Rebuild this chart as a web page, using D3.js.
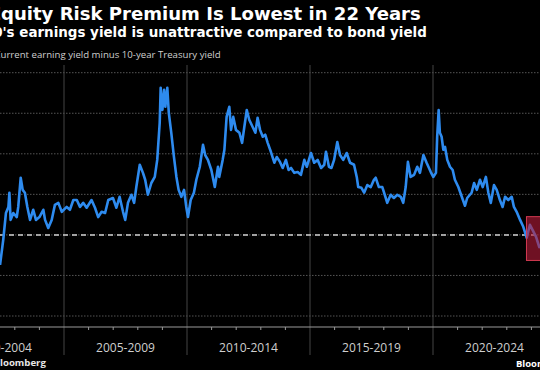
<!DOCTYPE html>
<html>
<head>
<meta charset="utf-8">
<script src="https://cdn.jsdelivr.net/npm/d3@7.9.0/dist/d3.min.js"></script>
<style>
  html, body { margin: 0; padding: 0; background: #000; overflow: hidden; }
  svg { display: block; }
</style>
</head>
<body>
<svg id="chart" width="540" height="370"></svg>
<script>
// S&P 500 earnings yield minus 10y Treasury yield (pct pts)
const dates = [
  2002.40, 2002.53, 2002.64, 2002.74, 2002.78, 2002.83, 2002.94, 2003.08, 2003.14, 2003.24,
  2003.32, 2003.41, 2003.51, 2003.62, 2003.75, 2003.86, 2004.00, 2004.16, 2004.23, 2004.36,
  2004.50, 2004.63, 2004.77, 2004.91, 2005.11, 2005.24, 2005.38, 2005.52, 2005.65, 2005.78,
  2005.92, 2006.12, 2006.26, 2006.39, 2006.53, 2006.67, 2006.80, 2006.99, 2007.13, 2007.26,
  2007.40, 2007.49, 2007.60, 2007.74, 2007.85, 2007.94, 2008.08, 2008.21, 2008.30, 2008.41,
  2008.55, 2008.69, 2008.79, 2008.89, 2008.93, 2009.00, 2009.07, 2009.12, 2009.20, 2009.26,
  2009.36, 2009.47, 2009.57, 2009.66, 2009.77, 2009.88, 2009.97, 2010.04, 2010.15, 2010.28,
  2010.38, 2010.52, 2010.65, 2010.74, 2010.85, 2010.99, 2011.13, 2011.26, 2011.31, 2011.45,
  2011.52, 2011.61, 2011.72, 2011.79, 2011.88, 2011.99, 2012.13, 2012.24, 2012.33, 2012.43,
  2012.53, 2012.67, 2012.78, 2012.87, 2012.97, 2013.08, 2013.18, 2013.28, 2013.41, 2013.55,
  2013.65, 2013.78, 2013.89, 2014.02, 2014.13, 2014.23, 2014.36, 2014.50, 2014.63, 2014.77,
  2014.87, 2015.04, 2015.17, 2015.31, 2015.45, 2015.58, 2015.65, 2015.77, 2015.87, 2015.98,
  2016.11, 2016.22, 2016.35, 2016.49, 2016.63, 2016.79, 2016.90, 2016.96, 2017.09, 2017.20,
  2017.33, 2017.47, 2017.60, 2017.67, 2017.80, 2017.94, 2018.08, 2018.14, 2018.28, 2018.41,
  2018.55, 2018.69, 2018.79, 2018.89, 2018.98, 2019.09, 2019.23, 2019.36, 2019.47, 2019.61,
  2019.74, 2019.91, 2020.01, 2020.12, 2020.17, 2020.23, 2020.28, 2020.35, 2020.42, 2020.49,
  2020.58, 2020.69, 2020.80, 2020.89, 2021.03, 2021.17, 2021.30, 2021.39, 2021.57, 2021.67,
  2021.78, 2021.91, 2022.02, 2022.15, 2022.25, 2022.35, 2022.48, 2022.59, 2022.72, 2022.83,
  2022.93, 2023.06, 2023.20, 2023.29, 2023.40, 2023.54, 2023.67, 2023.81, 2023.94, 2024.05,
  2024.19, 2024.32, 2024.45
];
const premium = [
  -0.74, -0.12, 0.54, 0.69, 1.04, 0.37, 0.54, 0.44, 0.69, 1.41,
  1.11, 1.04, 0.69, 0.37, 0.62, 0.37, 0.44, 0.62, 0.37, 0.17,
  0.37, 0.74, 0.79, 0.57, 0.69, 0.62, 0.86, 0.86, 0.69, 0.79,
  0.67, 0.86, 0.67, 0.44, 0.57, 0.54, 0.86, 0.91, 0.67, 0.94,
  0.57, 0.37, 0.79, 0.99, 0.79, 1.18, 1.73, 1.53, 1.36, 0.99,
  1.28, 1.43, 1.85, 2.76, 3.63, 3.08, 3.58, 3.16, 3.63, 3.01,
  2.52, 1.92, 1.43, 1.11, 0.94, 1.11, 0.69, 0.44, 0.86, 1.04,
  1.36, 1.68, 2.22, 1.97, 1.85, 1.60, 1.18, 1.68, 1.43, 1.85,
  2.10, 2.91, 3.16, 2.59, 2.91, 2.59, 2.52, 2.27, 2.66, 3.08,
  2.84, 2.66, 2.52, 2.89, 2.59, 2.42, 2.47, 2.27, 2.05, 1.78,
  1.92, 1.80, 1.65, 1.85, 1.60, 1.65, 1.53, 1.55, 1.48, 1.85,
  1.68, 2.02, 1.78, 1.85, 1.65, 1.73, 2.05, 1.68, 1.65, 1.85,
  2.29, 1.97, 1.85, 2.02, 1.78, 1.73, 1.43, 1.18, 1.16, 1.04,
  1.23, 1.18, 1.36, 1.41, 1.18, 1.18, 0.91, 0.79, 0.99, 0.91,
  0.99, 0.94, 0.79, 1.18, 1.80, 1.43, 1.48, 1.68, 1.53, 1.97,
  1.78, 1.55, 1.43, 1.53, 2.42, 3.08, 2.52, 2.42, 2.10, 2.17,
  1.85, 1.68, 1.60, 1.36, 1.18, 0.94, 0.72, 0.91, 1.04, 1.28,
  1.11, 1.36, 1.18, 1.43, 1.04, 0.79, 1.23, 1.11, 0.86, 0.69,
  0.94, 0.86, 0.94, 0.69, 0.57, 0.37, 0.20, -0.07, 0.25, 0.12,
  -0.05, -0.30, -0.22
];

const gridValues = [-2, -1, 0, 1, 2, 3, 4];
const periodBreaks = [2000, 2005, 2010, 2015, 2020, 2025];
const periodLabels = ['2000-2004', '2005-2009', '2010-2014', '2015-2019', '2020-2024'];
const yearTicks = d3.range(2000, 2026);
const referenceLevel = 0;             // dashed line
const highlightStart = 2023.8;        // red box
const highlightRange = [-0.63, 0.45];

const W = 540, H = 370;
const plotTop = 65, axisY = 327, tickBottom = 355;

const svg = d3.select('#chart');
svg.append('rect').attr('width', W).attr('height', H).attr('fill', '#000');

const x = d3.scaleLinear().domain([2000, 2025]).range([-59, 556]);
const y = d3.scaleLinear().domain([-2, 4]).range([316, 72.7]);

// horizontal grid
svg.append('g')
  .selectAll('line')
  .data(gridValues)
  .join('line')
  .attr('x1', 0).attr('x2', W)
  .attr('y1', d => y(d)).attr('y2', d => y(d))
  .attr('stroke', '#555')
  .attr('stroke-dasharray', '1.5 1.5')
  .attr('stroke-width', 1);

// period separators
svg.append('g')
  .selectAll('line')
  .data(periodBreaks)
  .join('line')
  .attr('x1', d => x(d)).attr('x2', d => x(d))
  .attr('y1', plotTop).attr('y2', tickBottom)
  .attr('stroke', '#444')
  .attr('stroke-width', 1);

// reference dashed line
svg.append('line')
  .attr('x1', 0).attr('x2', W)
  .attr('y1', y(referenceLevel)).attr('y2', y(referenceLevel))
  .attr('stroke', '#d0d0d0')
  .attr('stroke-width', 1.5)
  .attr('stroke-dasharray', '5 4');

const series = dates.map((d, i) => ({ date: d, value: premium[i] }));

const line = d3.line()
  .x(d => x(d.date))
  .y(d => y(d.value));

svg.append('path')
  .datum(series)
  .attr('d', line)
  .attr('fill', 'none')
  .attr('stroke', '#2e8bef')
  .attr('stroke-width', 2.6)
  .attr('stroke-linejoin', 'round');

// highlight box
svg.append('rect')
  .attr('x', x(highlightStart))
  .attr('y', y(highlightRange[1]))
  .attr('width', x(2025) - x(highlightStart))
  .attr('height', y(highlightRange[0]) - y(highlightRange[1]))
  .attr('fill', 'rgba(185, 28, 58, 0.6)')
  .attr('stroke', '#d23a52')
  .attr('stroke-width', 1);

// x axis
svg.append('line')
  .attr('x1', 0).attr('x2', W)
  .attr('y1', axisY).attr('y2', axisY)
  .attr('stroke', '#9a9a9a')
  .attr('stroke-width', 1);

svg.append('g')
  .selectAll('line')
  .data(yearTicks.filter(d => d % 5 !== 0))
  .join('line')
  .attr('x1', d => x(d)).attr('x2', d => x(d))
  .attr('y1', axisY).attr('y2', axisY + 3)
  .attr('stroke', '#9a9a9a');

svg.append('g')
  .selectAll('text')
  .data(periodLabels)
  .join('text')
  .attr('x', (d, i) => (x(periodBreaks[i]) + x(periodBreaks[i + 1])) / 2)
  .attr('y', 352)
  .attr('text-anchor', 'middle')
  .attr('fill', '#cfcfcf')
  .attr('font-family', '"Open Sans", sans-serif')
  .attr('font-size', 12)
  .text(d => d);

// the picture is cropped on both sides, so size each text so that its
// visible part [from, from+count) lands between x0 and x1
function fitText(sel, from, count, x0, x1) {
  const node = sel.node();
  const size = +sel.attr('font-size');
  const part = node.getSubStringLength(from, count);
  sel.attr('font-size', size * (x1 - x0) / part);
  const before = from > 0 ? node.getSubStringLength(0, from) : 0;
  sel.attr('x', x0 - before);
}

function addText(str, yPos, size, family, weight, fill) {
  return svg.append('text')
    .attr('y', yPos)
    .attr('fill', fill)
    .attr('font-family', family)
    .attr('font-weight', weight)
    .attr('font-size', size)
    .text(str);
}

const title = addText('Equity Risk Premium Is Lowest in 22 Years', 20, 18,
  '"DejaVu Sans", sans-serif', 'bold', '#fff');
fitText(title, 1, 40, 1, 421);

const subtitle = addText("S&P 500's earnings yield is unattractive compared to bond yield", 37, 13.2,
  '"DejaVu Sans", sans-serif', 'bold', '#fff');
fitText(subtitle, 7, 56, 2.5, 427);

const note = addText('Current earning yield minus 10-year Treasury yield', 58, 10,
  '"Open Sans", sans-serif', 'normal', '#cfcfcf');
fitText(note, 1, 49, 0.5, 221);

const source = addText('Source: Bloomberg', 366, 10,
  '"Open Sans", sans-serif', 'bold', '#e6e6e6');
fitText(source, 9, 8, 0, 46);

const logo = addText('Bloomberg', 367, 14,
  '"Open Sans", sans-serif', 'bold', '#fff');
fitText(logo, 0, 4, 516, 537);
</script>
</body>
</html>
